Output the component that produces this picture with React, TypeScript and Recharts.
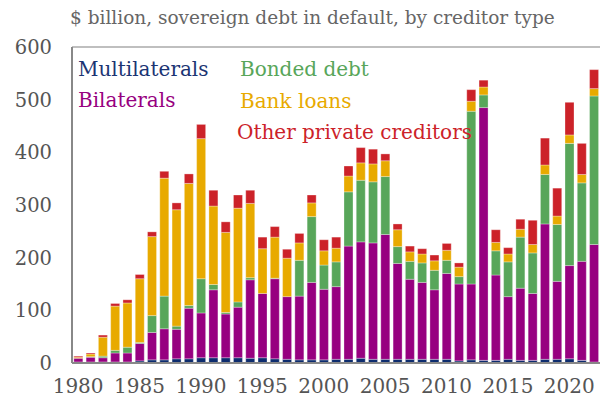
import React from "react";
import { BarChart, Bar, XAxis, YAxis, ReferenceLine } from "recharts";

const years = [
  "1980", "1981", "1982", "1983", "1984", "1985", "1986", "1987", "1988", "1989",
  "1990", "1991", "1992", "1993", "1994", "1995", "1996", "1997", "1998", "1999",
  "2000", "2001", "2002", "2003", "2004", "2005", "2006", "2007", "2008", "2009",
  "2010", "2011", "2012", "2013", "2014", "2015", "2016", "2017", "2018", "2019",
  "2020", "2021", "2022",
];

const multilaterals = [
  2, 2, 2, 2, 2, 4, 6, 6, 8, 8,
  10, 10, 10, 10, 9, 10, 8, 7, 6, 6,
  6, 7, 7, 9, 7, 7, 7, 7, 7, 7,
  7, 4, 6, 5, 5, 7, 5, 5, 7, 7,
  8, 5, 2,
];

const bilaterals = [
  7, 9, 8, 17, 17, 33, 52, 59, 56, 96,
  85, 129, 83, 96, 149, 122, 152, 119, 121, 147,
  134, 138, 215, 221, 221, 237, 182, 152, 146, 132,
  163, 146, 144, 480, 162, 119, 137, 127, 257, 148,
  177, 188, 223,
];

const bondedDebt = [
  0, 1, 3, 5, 11, 2, 32, 62, 6, 5,
  65, 10, 3, 10, 4, 0, 1, 0, 68, 125,
  46, 47, 103, 117, 116, 110, 32, 34, 37, 37,
  25, 14, 328, 24, 46, 66, 97, 77, 94, 108,
  232, 149, 282,
];

const bankLoans = [
  2, 5, 36, 84, 84, 121, 150, 224, 221, 232,
  266, 149, 152, 178, 141, 85, 78, 73, 33, 26,
  27, 26, 30, 33, 34, 30, 32, 18, 17, 18,
  19, 18, 19, 15, 16, 15, 15, 16, 18, 16,
  16, 16, 14,
];

const otherPrivate = [
  2, 2, 4, 5, 6, 8, 9, 13, 13, 18,
  27, 30, 20, 25, 25, 22, 20, 17, 18, 15,
  21, 21, 19, 29, 28, 13, 11, 11, 10, 11,
  13, 8, 22, 13, 24, 12, 19, 46, 51, 53,
  62, 59, 36,
];

const yTicks = [0, 100, 200, 300, 400, 500, 600];

const series = [
  { key: "multi", name: "Multilaterals", color: "#0d2c6e" },
  { key: "bilat", name: "Bilaterals", color: "#970080" },
  { key: "bonded", name: "Bonded debt", color: "#58a65a" },
  { key: "bank", name: "Bank loans", color: "#e8aa00" },
  { key: "other", name: "Other private creditors", color: "#cc2229" },
];

const data = years.map((year, i) => ({
  year,
  multi: multilaterals[i],
  bilat: bilaterals[i],
  bonded: bondedDebt[i],
  bank: bankLoans[i],
  other: otherPrivate[i],
}));

const font = "'DejaVu Serif', 'Liberation Serif', serif";

function LegendLabel({ text, color, left, top }: { text: string; color: string; left: number; top: number }) {
  return (
    <div
      style={{
        position: "absolute",
        left,
        top,
        color,
        fontFamily: font,
        fontSize: 20,
        lineHeight: "24px",
        whiteSpace: "nowrap",
      }}
    >
      {text}
    </div>
  );
}

export default function App() {
  return (
    <div
      style={{
        position: "absolute",
        left: 0,
        top: 0,
        width: 610,
        height: 399,
        background: "#fff",
        fontFamily: font,
      }}
    >
      <div
        style={{
          position: "absolute",
          left: 70,
          top: 6,
          fontSize: 18.5,
          lineHeight: "24px",
          color: "#666",
          whiteSpace: "nowrap",
        }}
      >
        $ billion, sovereign debt in default, by creditor type
      </div>
      <BarChart
        width={610}
        height={399}
        data={data}
        margin={{ top: 47, right: 10, left: 0, bottom: 6 }}
        barCategoryGap="15%"
      >
        <XAxis
          dataKey="year"
          interval={4}
          tickLine={false}
          axisLine={{ stroke: "#888", strokeWidth: 2 }}
          tick={{ fontSize: 20, fill: "#555", fontFamily: font }}
          tickMargin={10}
          height={30}
        />
        <YAxis
          domain={[0, 600]}
          ticks={yTicks}
          width={72}
          tickLine={false}
          axisLine={{ stroke: "#888", strokeWidth: 2 }}
          tick={{ fontSize: 19.5, fill: "#555", fontFamily: font }}
          tickMargin={14}
        />
        <YAxis
          yAxisId="frame"
          orientation="right"
          domain={[0, 600]}
          width={0}
          tick={false}
          tickLine={false}
          axisLine={{ stroke: "#aaa", strokeWidth: 1.5 }}
        />
        <ReferenceLine y={600} stroke="#aaa" strokeWidth={1.5} />
        {series.map((s) => (
          <Bar
            key={s.key}
            dataKey={s.key}
            name={s.name}
            stackId="debt"
            fill={s.color}
            stroke="#ffffff"
            strokeOpacity={0.6}
            strokeWidth={0.5}
            isAnimationActive={false}
          />
        ))}
      </BarChart>
      <LegendLabel text="Multilaterals" color="#1b3473" left={78} top={57} />
      <LegendLabel text="Bilaterals" color="#970080" left={78} top={88} />
      <LegendLabel text="Bonded debt" color="#58a65a" left={240} top={57} />
      <LegendLabel text="Bank loans" color="#e8aa00" left={240} top={89} />
      <LegendLabel text="Other private creditors" color="#cc2229" left={237} top={120} />
    </div>
  );
}
